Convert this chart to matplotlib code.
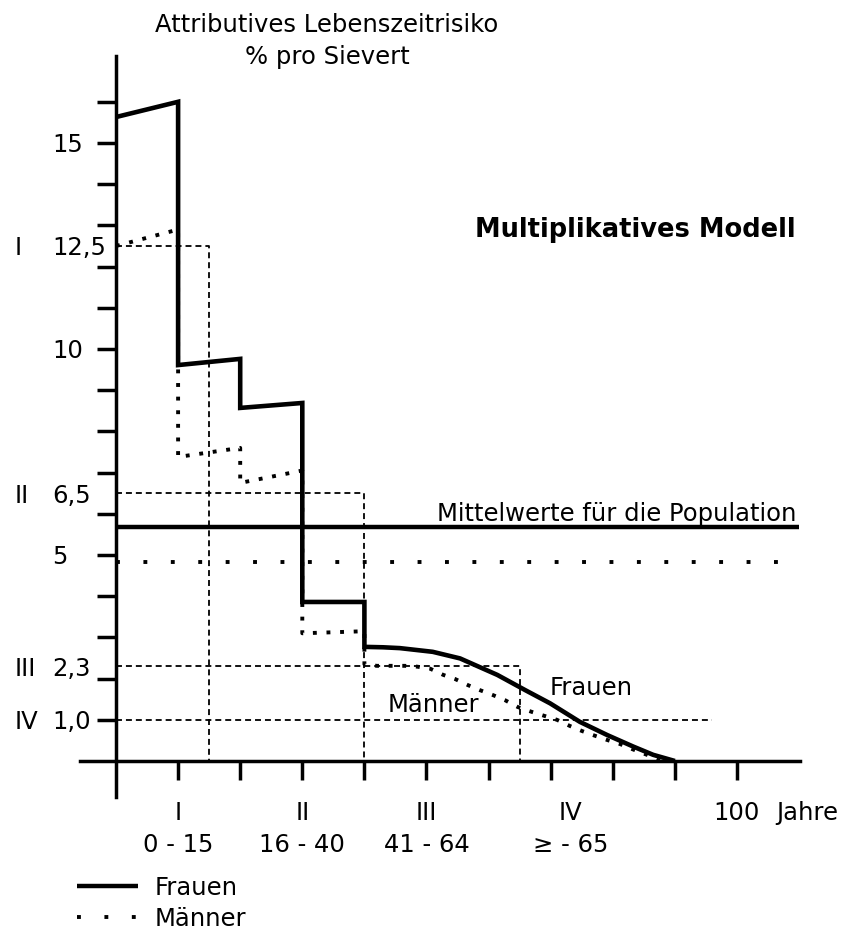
"""Attributives Lebenszeitrisiko (% pro Sievert) nach Alter - multiplikatives Modell."""

import matplotlib
matplotlib.use("Agg")
import matplotlib.pyplot as plt
from matplotlib.transforms import blended_transform_factory

# ----- data -----

# Frauen: step function per decade up to 40, then a smooth decline to 90
frauen_age = [0, 10, 10, 20, 20, 30, 30, 40, 40,
              43, 45.7, 51, 55.4, 61.4, 65.9, 69.9, 74.7, 79.1, 83.3, 86.5, 90]
frauen_risk = [15.63, 16.0, 9.61, 9.76, 8.57, 8.69, 3.86, 3.86, 2.77,
               2.76, 2.74, 2.65, 2.49, 2.09, 1.72, 1.40, 0.95, 0.63, 0.35, 0.15, 0.0]

# Männer
maenner_age = [0, 10, 10, 20, 20, 30, 30, 40, 40,
               42, 46.5, 48.5, 50.6, 52.7, 54.6, 56.7, 58.6, 60.7, 62.6, 64.7,
               67, 69.1, 71, 73.1, 75, 76.8, 79.1, 81.2, 83.1, 85.5, 87.3, 90]
maenner_risk = [12.5, 12.9, 7.38, 7.6, 6.75, 7.05, 3.1, 3.15, 2.35,
                2.31, 2.31, 2.29, 2.24, 2.09, 1.99, 1.84, 1.72, 1.60, 1.48, 1.31,
                1.19, 1.09, 1.0, 0.85, 0.73, 0.63, 0.51, 0.41, 0.29, 0.15, 0.02, 0.0]

# Mittelwerte für die Population
mean_frauen = 5.68
mean_maenner = 4.83
population_age_span = [0, 110]

# Altersgruppen: mean risk and upper age of the dashed box
group_names = ["I", "II", "III", "IV"]
group_risk = [12.5, 6.5, 2.3, 1.0]
group_end_age = [15, 40, 65, 96]
group_closed = [True, True, True, False]   # IV has no right edge

y_label_values = [15, 12.5, 10, 6.5, 5, 2.3, 1.0]
y_label_texts = ["15", "12,5", "10", "6,5", "5", "2,3", "1,0"]
y_minor_ticks = list(range(1, 17))

x_label_values = [10, 30, 50, 73.2, 100]
x_label_texts = ["I\n0 - 15", "II\n16 - 40", "III\n41 - 64", "IV\n≥ - 65", "100"]
x_minor_ticks = list(range(10, 101, 10))

# ----- layout: 853x931 px, axes fill the figure -----
W, H = 853, 931
PX_PER_YEAR = 6.21
PX_PER_PCT = 41.2
X0_PX, Y0_PX = 116, 761          # pixel position of the origin

plt.rcParams["font.family"] = "DejaVu Sans"
plt.rcParams["font.size"] = 17.5

fig = plt.figure(figsize=(W / 100, H / 100), dpi=100)
ax = fig.add_axes([0, 0, 1, 1])
ax.set_xlim(-X0_PX / PX_PER_YEAR, (W - X0_PX) / PX_PER_YEAR)
ax.set_ylim((Y0_PX - H) / PX_PER_PCT, Y0_PX / PX_PER_PCT)
ax.patch.set_visible(False)

for side in ("top", "right"):
    ax.spines[side].set_visible(False)
ax.spines["left"].set_position(("data", 0))
ax.spines["bottom"].set_position(("data", 0))
ax.spines["left"].set_bounds(-0.87, 17.1)
ax.spines["bottom"].set_bounds(-5.8, 110.1)
for side in ("left", "bottom"):
    ax.spines[side].set_linewidth(2.5)

ax.xaxis.remove_overlapping_locs = False
ax.yaxis.remove_overlapping_locs = False
ax.set_xticks(x_minor_ticks, minor=True)
ax.set_yticks(y_minor_ticks, minor=True)
ax.set_xticks(x_label_values, x_label_texts)
ax.set_yticks(y_label_values, y_label_texts)
ax.tick_params(which="minor", length=13.7, width=2.5, direction="out")
ax.tick_params(which="major", length=0)
ax.tick_params(axis="y", which="major", pad=46)
ax.tick_params(axis="x", which="major", pad=28.8)
plt.setp(ax.get_yticklabels(), ha="left")
plt.setp(ax.get_xticklabels(), linespacing=1.4)

# dashed group boxes
for r, end, closed in zip(group_risk, group_end_age, group_closed):
    xs, ys = ([0, end, end], [r, r, 0]) if closed else ([0, end], [r, r])
    ax.plot(xs, ys, color="black", lw=1.3, linestyle=(0, (3.3, 2.2)), zorder=1)

# roman numerals left of the y labels
trans = blended_transform_factory(ax.transAxes, ax.transData)
for name, r in zip(group_names, group_risk):
    ax.text(15 / W, r, name, transform=trans, ha="left", va="center_baseline")

# population means
l_f_mean, = ax.plot(population_age_span, [mean_frauen] * 2, color="black",
                    lw=3.2, solid_capstyle="butt", zorder=2)
l_m_mean, = ax.plot(population_age_span, [mean_maenner] * 2, color="black",
                    lw=2.8, linestyle=(0, (1, 6.05)), dash_capstyle="butt", zorder=2)

# curves
ax.plot(maenner_age, maenner_risk, color="black", lw=2.8,
        linestyle=(0, (1, 2.5)), dash_capstyle="butt", zorder=3)
ax.plot(frauen_age, frauen_risk, color="black", lw=3.3,
        solid_joinstyle="miter", solid_capstyle="butt", zorder=4)

# annotations
ax.annotate("Mittelwerte für die Population", xy=(population_age_span[1], mean_frauen),
            xytext=(-2.2, 4.5), textcoords="offset points", ha="right", va="baseline")
ax.text(69.8, 1.60, "Frauen", ha="left", va="baseline")
ax.text(43.8, 1.19, "Männer", ha="left", va="baseline")
ax.text(57.8, 12.73, "Multiplikatives Modell", fontsize=18.5, fontweight="bold",
        ha="left", va="baseline")
ax.annotate("Jahre", xy=(106.3, 0), xytext=(0, -28.8), textcoords="offset points",
            ha="left", va="top")
ax.text(327 / W, 1 - 13 / H, "Attributives Lebenszeitrisiko\n% pro Sievert",
        transform=ax.transAxes, ha="center", va="top", linespacing=1.4,
        multialignment="center")

ax.legend([l_f_mean, l_m_mean], ["Frauen", "Männer"], loc="upper left",
          bbox_to_anchor=(77 / W, 1 - 876 / H), frameon=False, borderpad=0,
          borderaxespad=0, handlelength=2.5, handletextpad=0.7, labelspacing=0.28)

fig.savefig("out.png", dpi=100)
